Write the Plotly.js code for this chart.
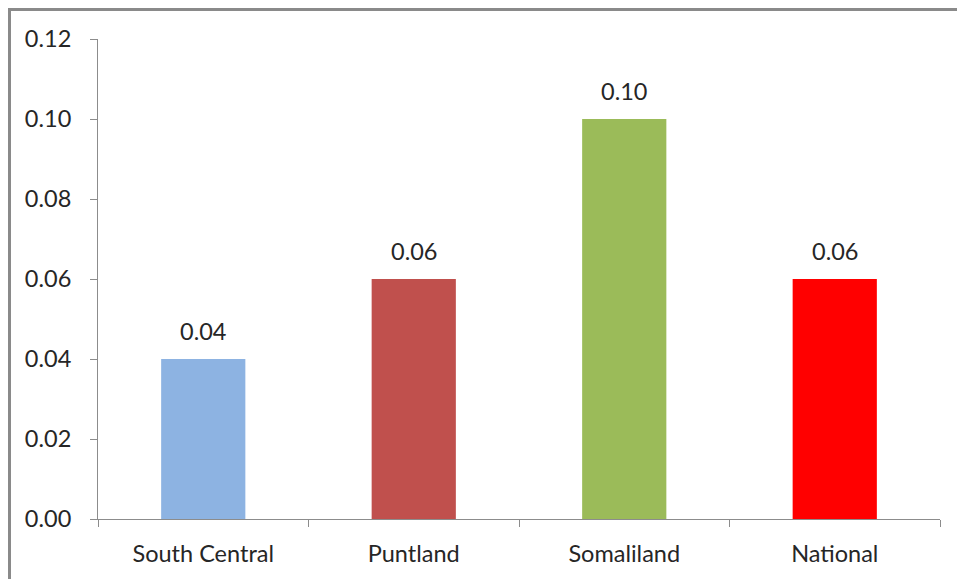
<!DOCTYPE html>
<html>
<head>
<meta charset="utf-8">
<script src="https://cdn.plot.ly/plotly-3.0.1.min.js"></script>
<style>
html,body{margin:0;padding:0;background:#fff;overflow:hidden;}
#chart{width:957px;height:579px;}
#frame{position:absolute;left:8px;top:8px;width:1200px;height:1200px;border-top:3px solid #8a8a8a;border-left:3px solid #8a8a8a;pointer-events:none;}
</style>
</head>
<body>
<div id="chart"></div>
<div id="frame"></div>
<script>
const categories = ["South Central", "Puntland", "Somaliland", "National"];
const values = [0.04, 0.06, 0.10, 0.06];
const labels = ["0.04", "0.06", "0.10", "0.06"];
const colors = ["#8DB3E2", "#C0504D", "#9BBB59", "#FF0000"];
const yTicks = [0, 0.02, 0.04, 0.06, 0.08, 0.10, 0.12];

const font = {family: "Lato, 'Open Sans', sans-serif", size: 23.5, color: "#262626"};

const trace = {
  type: "bar",
  x: categories,
  y: values,
  marker: {color: colors, line: {width: 0}},
  hoverinfo: "none"
};

const annotations = categories.map((c, i) => ({
  x: c, y: values[i], xref: "x", yref: "y",
  text: labels[i], showarrow: false,
  yanchor: "bottom", yshift: 12,
  font: font
}));

const layout = {
  width: 957, height: 579,
  margin: {l: 98, r: 17, t: 39, b: 60},
  paper_bgcolor: "#ffffff",
  plot_bgcolor: "#ffffff",
  bargap: 0.6,
  showlegend: false,
  font: font,
  xaxis: {
    type: "category",
    showline: true, linecolor: "#8c8c8c", linewidth: 1,
    ticks: "outside", tickson: "boundaries", ticklen: 7, tickcolor: "#8c8c8c",
    showgrid: false, zeroline: false,
    tickfont: font,
    ticklabelstandoff: 14
  },
  yaxis: {
    range: [0, 0.12],
    tickvals: yTicks,
    tickformat: ".2f",
    showline: true, linecolor: "#8c8c8c", linewidth: 1,
    ticks: "outside", ticklen: 7, tickcolor: "#8c8c8c",
    showgrid: false, zeroline: false,
    tickfont: font,
    ticklabelstandoff: 14
  },
  annotations: annotations
};

Plotly.newPlot("chart", [trace], layout, {displayModeBar: false, staticPlot: true});
</script>
</body>
</html>
